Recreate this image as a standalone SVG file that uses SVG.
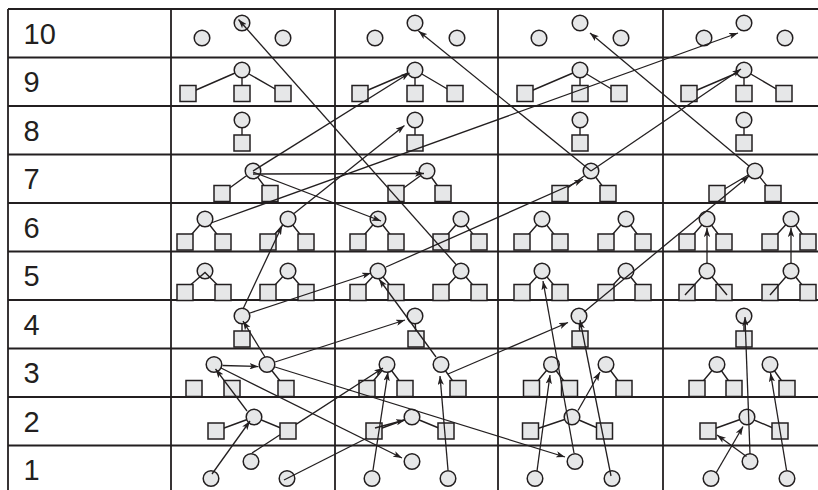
<svg xmlns="http://www.w3.org/2000/svg" width="818" height="490" viewBox="0 0 818 490">
<defs>
<style>
.c{fill:#e6e7e8;stroke:#231f20;stroke-width:1.5}
.e{fill:none;stroke:#231f20;stroke-width:1.4}
.g{fill:none;stroke:#231f20;stroke-width:1.8}
.a{fill:none;stroke:#231f20;stroke-width:1.3;marker-end:url(#ah)}
.l{fill:none;stroke:#231f20;stroke-width:1.3}
.t{font-family:"Liberation Sans",Arial,sans-serif;font-size:29px;fill:#231f20}
</style>
<marker id="ah" viewBox="0 0 10 7" refX="10" refY="3.5" markerWidth="9" markerHeight="6.3" orient="auto" markerUnits="userSpaceOnUse">
<path d="M0,0 L10,3.5 L0,7 L2.5,3.5 z" fill="#231f20"/>
</marker>
</defs>
<rect x="0" y="0" width="818" height="490" fill="#ffffff"/>
<g id="grid">
<path class="g" d="M8,9 H818 M8,57.5 H818 M8,106 H818 M8,154.5 H818 M8,203 H818 M8,251.5 H818 M8,300 H818 M8,348.5 H818 M8,397 H818 M8,445.5 H818"/>
<path class="g" d="M8,9 V490 M171,9 V490 M335,9 V490 M498,9 V490 M663,9 V490"/>
</g>
<g id="labels">
<text class="t" x="23.5" y="43.5">10</text>
<text class="t" x="23.5" y="92">9</text>
<text class="t" x="23.5" y="140.5">8</text>
<text class="t" x="23.5" y="189">7</text>
<text class="t" x="23.5" y="237.5">6</text>
<text class="t" x="23.5" y="286">5</text>
<text class="t" x="23.5" y="334.5">4</text>
<text class="t" x="23.5" y="383">3</text>
<text class="t" x="23.5" y="431.5">2</text>
<text class="t" x="23.5" y="480">1</text>
</g>
<!-- Column 1 -->
<g id="c1r10"><circle class="c" cx="202" cy="38" r="7.8"/><circle class="c" cx="242" cy="23" r="7.8"/><circle class="c" cx="283" cy="38" r="7.8"/></g>
<g id="c1r9"><path class="e" d="M242,70 L188,93.5 M242,70 L242,93.5 M242,70 L283,93.5"/><rect class="c" x="180" y="85.5" width="16" height="16"/><rect class="c" x="234" y="85.5" width="16" height="16"/><rect class="c" x="275" y="85.5" width="16" height="16"/><circle class="c" cx="242" cy="70" r="7.8"/></g>
<g id="c1r8"><path class="e" d="M242,120 L242,143"/><rect class="c" x="234" y="135" width="16" height="16"/><circle class="c" cx="242" cy="120" r="7.8"/></g>
<g id="c1r7"><path class="e" d="M253,171 L222,193.5 M253,171 L270,193.5"/><rect class="c" x="214" y="185.5" width="16" height="16"/><rect class="c" x="262" y="185.5" width="16" height="16"/><circle class="c" cx="253" cy="171" r="7.8"/></g>
<g id="c1r6"><path class="e" d="M205,219 L185,242 M205,219 L223,242 M288,219 L268,242 M288,219 L306,242"/><rect class="c" x="177" y="234" width="16" height="16"/><rect class="c" x="215" y="234" width="16" height="16"/><rect class="c" x="260" y="234" width="16" height="16"/><rect class="c" x="298" y="234" width="16" height="16"/><circle class="c" cx="205" cy="219" r="7.8"/><circle class="c" cx="288" cy="219" r="7.8"/></g>
<g id="c1r5"><path class="e" d="M288,271 L268,292.5 M288,271 L306,292.5"/><rect class="c" x="177" y="284.5" width="16" height="16"/><rect class="c" x="215" y="284.5" width="16" height="16"/><rect class="c" x="260" y="284.5" width="16" height="16"/><rect class="c" x="298" y="284.5" width="16" height="16"/><circle class="c" cx="205" cy="271" r="7.8"/><circle class="c" cx="288" cy="271" r="7.8"/><path class="e" d="M191,284.5 L205,272.5 L217,284.5"/></g>
<g id="c1r4"><path class="e" d="M242,316 L242,339"/><rect class="c" x="234" y="331" width="16" height="16"/><circle class="c" cx="242" cy="316" r="7.8"/></g>
<g id="c1r3"><path class="e" d="M267,364.5 L286,388.5"/><rect class="c" x="186" y="380.5" width="16" height="16"/><rect class="c" x="224" y="380.5" width="16" height="16"/><rect class="c" x="278" y="380.5" width="16" height="16"/><circle class="c" cx="214" cy="364.5" r="7.8"/><circle class="c" cx="267" cy="364.5" r="7.8"/></g>
<g id="c1r2"><path class="e" d="M254,417 L216,431 M254,417 L288,431"/><rect class="c" x="208" y="423" width="16" height="16"/><rect class="c" x="280" y="423" width="16" height="16"/><circle class="c" cx="254" cy="417" r="7.8"/></g>
<g id="c1r1"><circle class="c" cx="211" cy="478.5" r="7.8"/><circle class="c" cx="251" cy="461.5" r="7.8"/><circle class="c" cx="287" cy="478.5" r="7.8"/></g>
<!-- Column 2 -->
<g id="c2r10"><circle class="c" cx="375" cy="38" r="7.8"/><circle class="c" cx="415" cy="23" r="7.8"/><circle class="c" cx="457" cy="38" r="7.8"/></g>
<g id="c2r9"><path class="e" d="M415,70 L360,93.5 M415,70 L415,93.5 M415,70 L455,93.5"/><rect class="c" x="352" y="85.5" width="16" height="16"/><rect class="c" x="407" y="85.5" width="16" height="16"/><rect class="c" x="447" y="85.5" width="16" height="16"/><circle class="c" cx="415" cy="70" r="7.8"/></g>
<g id="c2r8"><path class="e" d="M415,120 L415,143"/><rect class="c" x="407" y="135" width="16" height="16"/><circle class="c" cx="415" cy="120" r="7.8"/></g>
<g id="c2r7"><path class="e" d="M427,171 L396,193.5 M427,171 L443,193.5"/><rect class="c" x="388" y="185.5" width="16" height="16"/><rect class="c" x="435" y="185.5" width="16" height="16"/><circle class="c" cx="427" cy="171" r="7.8"/></g>
<g id="c2r6"><path class="e" d="M378,219 L358,242 M378,219 L396,242 M461,219 L441,242 M461,219 L479,242"/><rect class="c" x="350" y="234" width="16" height="16"/><rect class="c" x="388" y="234" width="16" height="16"/><rect class="c" x="433" y="234" width="16" height="16"/><rect class="c" x="471" y="234" width="16" height="16"/><circle class="c" cx="378" cy="219" r="7.8"/><circle class="c" cx="461" cy="219" r="7.8"/></g>
<g id="c2r5"><path class="e" d="M378,271 L358,292.5 M378,271 L396,292.5 M461,271 L441,292.5 M461,271 L479,292.5"/><rect class="c" x="350" y="284.5" width="16" height="16"/><rect class="c" x="388" y="284.5" width="16" height="16"/><rect class="c" x="433" y="284.5" width="16" height="16"/><rect class="c" x="471" y="284.5" width="16" height="16"/><circle class="c" cx="378" cy="271" r="7.8"/><circle class="c" cx="461" cy="271" r="7.8"/></g>
<g id="c2r4"><path class="e" d="M415,316 L416,339"/><rect class="c" x="408" y="331" width="16" height="16"/><circle class="c" cx="415" cy="316" r="7.8"/></g>
<g id="c2r3"><path class="e" d="M387,364.5 L367,388.5 M387,364.5 L405,388.5 M441,364.5 L458,388.5"/><rect class="c" x="359" y="380.5" width="16" height="16"/><rect class="c" x="397" y="380.5" width="16" height="16"/><rect class="c" x="450" y="380.5" width="16" height="16"/><circle class="c" cx="387" cy="364.5" r="7.8"/><circle class="c" cx="441" cy="364.5" r="7.8"/></g>
<g id="c2r2"><path class="e" d="M412,417 L374,431 M412,417 L446,431"/><rect class="c" x="366" y="423" width="16" height="16"/><rect class="c" x="438" y="423" width="16" height="16"/><circle class="c" cx="412" cy="417" r="7.8"/></g>
<g id="c2r1"><circle class="c" cx="372" cy="478.5" r="7.8"/><circle class="c" cx="412" cy="461.5" r="7.8"/><circle class="c" cx="448" cy="478.5" r="7.8"/></g>
<!-- Column 3 -->
<g id="c3r10"><circle class="c" cx="539" cy="38" r="7.8"/><circle class="c" cx="580" cy="23" r="7.8"/><circle class="c" cx="621" cy="38" r="7.8"/></g>
<g id="c3r9"><path class="e" d="M580,70 L525,93.5 M580,70 L580,93.5 M580,70 L619,93.5"/><rect class="c" x="517" y="85.5" width="16" height="16"/><rect class="c" x="572" y="85.5" width="16" height="16"/><rect class="c" x="611" y="85.5" width="16" height="16"/><circle class="c" cx="580" cy="70" r="7.8"/></g>
<g id="c3r8"><path class="e" d="M580,120 L580,143"/><rect class="c" x="572" y="135" width="16" height="16"/><circle class="c" cx="580" cy="120" r="7.8"/></g>
<g id="c3r7"><path class="e" d="M591,171 L560,193.5 M591,171 L608,193.5"/><rect class="c" x="552" y="185.5" width="16" height="16"/><rect class="c" x="600" y="185.5" width="16" height="16"/><circle class="c" cx="591" cy="171" r="7.8"/></g>
<g id="c3r6"><path class="e" d="M542,219 L522,242 M542,219 L560,242 M626,219 L606,242 M626,219 L643,242"/><rect class="c" x="514" y="234" width="16" height="16"/><rect class="c" x="552" y="234" width="16" height="16"/><rect class="c" x="598" y="234" width="16" height="16"/><rect class="c" x="635" y="234" width="16" height="16"/><circle class="c" cx="542" cy="219" r="7.8"/><circle class="c" cx="626" cy="219" r="7.8"/></g>
<g id="c3r5"><path class="e" d="M542,271 L522,292.5 M542,271 L560,292.5 M626,271 L606,292.5 M626,271 L643,292.5"/><rect class="c" x="514" y="284.5" width="16" height="16"/><rect class="c" x="552" y="284.5" width="16" height="16"/><rect class="c" x="598" y="284.5" width="16" height="16"/><rect class="c" x="635" y="284.5" width="16" height="16"/><circle class="c" cx="542" cy="271" r="7.8"/><circle class="c" cx="626" cy="271" r="7.8"/></g>
<g id="c3r4"><path class="e" d="M579,316 L580,339"/><rect class="c" x="572" y="331" width="16" height="16"/><circle class="c" cx="579" cy="316" r="7.8"/></g>
<g id="c3r3"><path class="e" d="M551.5,364.5 L531.5,388.5 M551.5,364.5 L569.5,388.5 M606,364.5 L624,388.5"/><rect class="c" x="523.5" y="380.5" width="16" height="16"/><rect class="c" x="561.5" y="380.5" width="16" height="16"/><rect class="c" x="616" y="380.5" width="16" height="16"/><circle class="c" cx="551.5" cy="364.5" r="7.8"/><circle class="c" cx="606" cy="364.5" r="7.8"/></g>
<g id="c3r2"><path class="e" d="M572,417 L530.5,431 M572,417 L604.5,431"/><rect class="c" x="522.5" y="423" width="16" height="16"/><rect class="c" x="596.5" y="423" width="16" height="16"/><circle class="c" cx="572" cy="417" r="7.8"/></g>
<g id="c3r1"><circle class="c" cx="535" cy="478.5" r="7.8"/><circle class="c" cx="575" cy="461.5" r="7.8"/><circle class="c" cx="612" cy="478.5" r="7.8"/></g>
<!-- Column 4 -->
<g id="c4r10"><circle class="c" cx="704" cy="38" r="7.8"/><circle class="c" cx="744" cy="23" r="7.8"/><circle class="c" cx="785" cy="38" r="7.8"/></g>
<g id="c4r9"><path class="e" d="M744,70 L689,93.5 M744,70 L744,93.5 M744,70 L784,93.5"/><rect class="c" x="681" y="85.5" width="16" height="16"/><rect class="c" x="736" y="85.5" width="16" height="16"/><rect class="c" x="776" y="85.5" width="16" height="16"/><circle class="c" cx="744" cy="70" r="7.8"/></g>
<g id="c4r8"><path class="e" d="M744,120 L744,143"/><rect class="c" x="736" y="135" width="16" height="16"/><circle class="c" cx="744" cy="120" r="7.8"/></g>
<g id="c4r7"><path class="e" d="M755,171 L717,193.5 M755,171 L773,193.5"/><rect class="c" x="709" y="185.5" width="16" height="16"/><rect class="c" x="765" y="185.5" width="16" height="16"/><circle class="c" cx="755" cy="171" r="7.8"/></g>
<g id="c4r6"><path class="e" d="M707,219 L687,242 M707,219 L724,242 M791,219 L770,242 M791,219 L808,242"/><rect class="c" x="679" y="234" width="16" height="16"/><rect class="c" x="716" y="234" width="16" height="16"/><rect class="c" x="762" y="234" width="16" height="16"/><rect class="c" x="800" y="234" width="16" height="16"/><circle class="c" cx="707" cy="219" r="7.8"/><circle class="c" cx="791" cy="219" r="7.8"/></g>
<g id="c4r5"><path class="e" d="M791,271 L808,292.5"/><rect class="c" x="679" y="284.5" width="16" height="16"/><rect class="c" x="716" y="284.5" width="16" height="16"/><rect class="c" x="762" y="284.5" width="16" height="16"/><rect class="c" x="800" y="284.5" width="16" height="16"/><path class="e" d="M707,271 L685,295 M707,271 L727,295 M791,271 L770,295"/><circle class="c" cx="707" cy="271" r="7.8"/><circle class="c" cx="791" cy="271" r="7.8"/></g>
<g id="c4r4"><path class="e" d="M744,316 L744,339"/><rect class="c" x="736" y="331" width="16" height="16"/><circle class="c" cx="744" cy="316" r="7.8"/></g>
<g id="c4r3"><path class="e" d="M717,364.5 L697,388.5 M717,364.5 L734,388.5 M770,364.5 L787,388.5"/><rect class="c" x="689" y="380.5" width="16" height="16"/><rect class="c" x="726" y="380.5" width="16" height="16"/><rect class="c" x="779" y="380.5" width="16" height="16"/><circle class="c" cx="717" cy="364.5" r="7.8"/><circle class="c" cx="770" cy="364.5" r="7.8"/></g>
<g id="c4r2"><path class="e" d="M747,417 L708,431 M747,417 L780,431"/><rect class="c" x="700" y="423" width="16" height="16"/><rect class="c" x="772" y="423" width="16" height="16"/><circle class="c" cx="747" cy="417" r="7.8"/></g>
<g id="c4r1"><circle class="c" cx="711" cy="478.5" r="7.8"/><circle class="c" cx="750" cy="461.5" r="7.8"/><circle class="c" cx="787" cy="478.5" r="7.8"/></g>
<!-- Connectors -->
<g id="connectors">
<path class="a" d="M456.5,265 L238.5,19.5"/>
<path class="a" d="M591,171 L418.5,31"/>
<path class="a" d="M749,166 L590,33"/>
<path class="a" d="M211,223 L738,33"/>
<path class="a" d="M591,171 L741,69"/>
<path class="a" d="M253,171 L409.5,73"/>
<path class="a" d="M294,213.5 L404.5,125.5"/>
<path class="a" d="M253,174 L424,173.5"/>
<path class="a" d="M253,172 L381,221"/>
<path class="a" d="M243,309 L282,226"/>
<path class="a" d="M250,313 L371,273"/>
<path class="a" d="M386,267 L583,179.5"/>
<path class="a" d="M436,357 L379,279"/>
<path class="a" d="M448,374 L568,322.5"/>
<path class="a" d="M584,312 L749,176"/>
<path class="a" d="M707,263 L707,228"/>
<path class="a" d="M791,263 L791,228"/>
<path class="a" d="M750,454 L745,317"/>
<path class="a" d="M786.5,470 L770.5,373"/>
<path class="a" d="M716,473 L743,426.5"/>
<path class="a" d="M746.5,456.5 L717,435"/>
<path class="a" d="M574,453 L543,281"/>
<path class="a" d="M537,471 L550,375"/>
<path class="a" d="M578,410.5 L600,372"/>
<path class="a" d="M611,476 L580,320"/>
<path class="a" d="M275,367 L565,457"/>
<path class="a" d="M221,368 L402,458"/>
<path class="a" d="M222.5,365.5 L258.5,366.5"/>
<path class="a" d="M247,411 L215.5,369"/>
<path class="a" d="M265,357 L243,321"/>
<path class="a" d="M212,474 L250,421"/>
<path class="a" d="M275,362 L405,320"/>
<path class="a" d="M252,453 L280,434.8 M296,424.4 L383,368"/>
<path class="l" d="M284,480 L367,438"/>
<path class="a" d="M448,470 L440,376"/>
<path class="a" d="M373,470 L388,372"/>
<path class="a" d="M375,428 L405,420"/>
</g>
</svg>
